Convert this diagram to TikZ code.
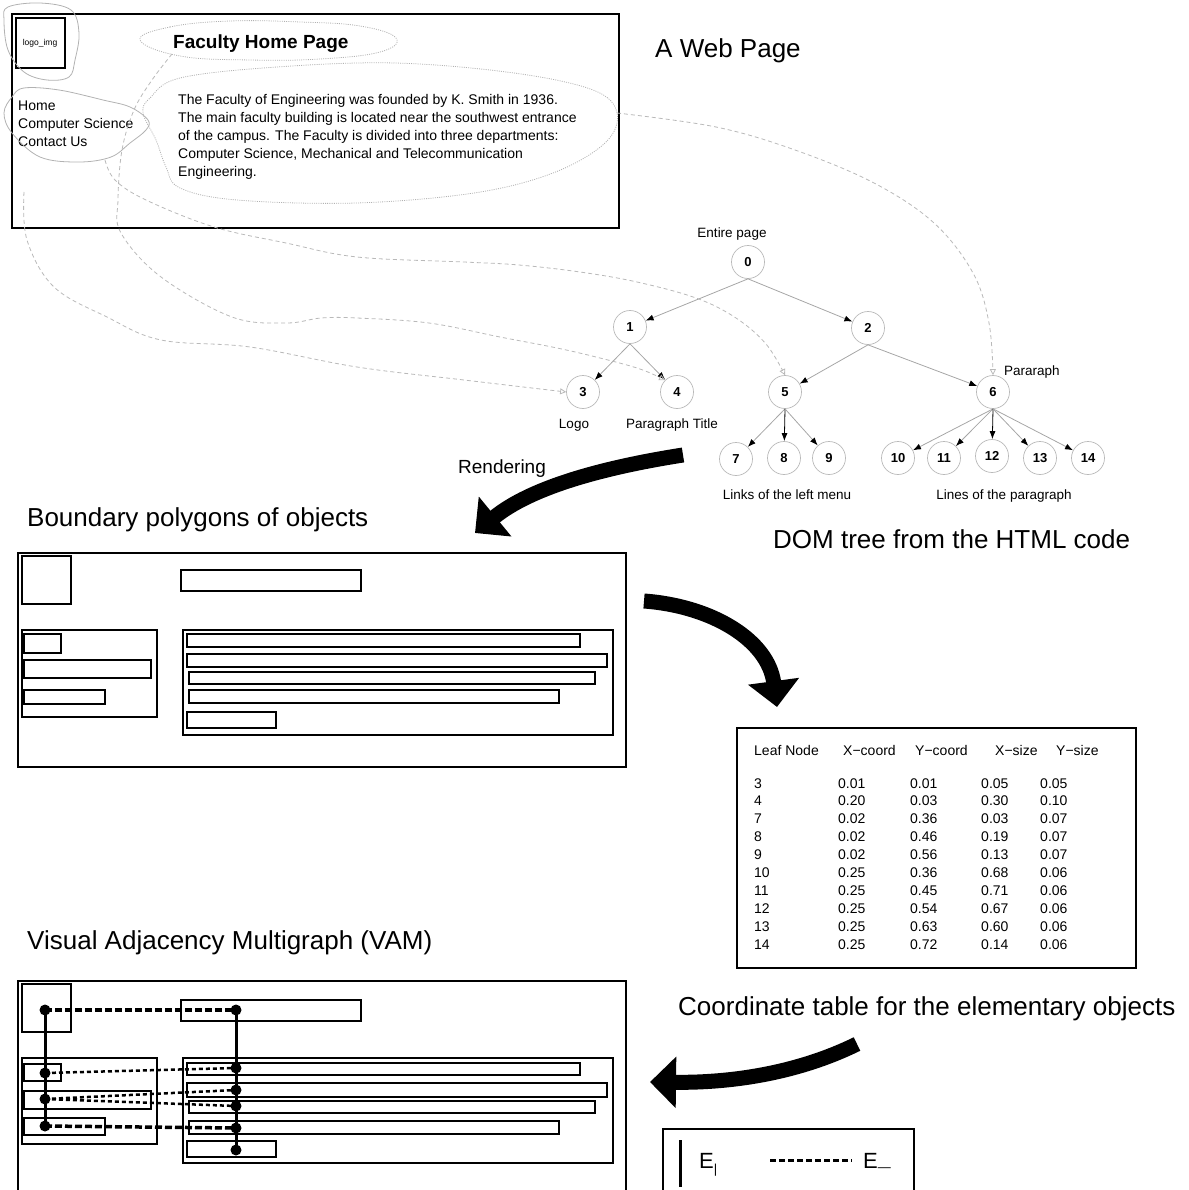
\documentclass[tikz,border=0pt]{standalone}
\usepackage{fontspec}
\setmainfont{Liberation Sans}
\usetikzlibrary{arrows.meta}
\begin{document}
\begin{tikzpicture}[x=1pt,y=-1pt,
  ttl/.style={anchor=base west, inner sep=0pt, font=\fontsize{26}{30}\selectfont},
  tnode/.style={circle, draw=gray!55, line width=0.7pt, minimum size=33pt, inner sep=0pt, font=\fontsize{13}{13}\selectfont\bfseries},
  tedge/.style={draw=gray!70, line width=0.8pt, -{Latex[black,length=8pt,width=6pt]}},
  tlabel/.style={anchor=base, inner sep=0pt, font=\fontsize{13.5}{14}\selectfont},
  lnk/.style={draw=gray!55, line width=0.8pt, dash pattern=on 4pt off 3pt, -{Triangle[open,length=6pt,width=6pt]}},
  sblob/.style={draw=gray!60, line width=0.8pt},
  dblob/.style={draw=gray!60, line width=0.8pt, dash pattern=on 1pt off 1.2pt},
  rbox/.style={draw=black, line width=1.5pt},
  bigarrow/.style={line width=15pt, -{Triangle[length=26pt,width=50pt]}},
  tcell/.style={anchor=base west, inner sep=0pt, font=\fontsize{14}{14}\selectfont},
  vdot/.style={circle, fill=black, inner sep=0pt, minimum size=11pt},
  thickdash/.style={line width=3.5pt, dash pattern=on 7pt off 3pt},
  thindash/.style={line width=2.5pt, dash pattern=on 4pt off 3pt},
]
\useasboundingbox (0,0) rectangle (1188,1190);
\clip (0,0) rectangle (1188,1190);

% ---------------- Web page ----------------
\draw[line width=2pt] (12,14) rectangle (619,228);
\draw[line width=2pt] (16,18) rectangle (65,68);
\node[inner sep=0pt, font=\fontsize{8.5}{9}\selectfont] (logotxt) at (40,43) {logo\_img};
\node[anchor=base west, inner sep=0pt, font=\fontsize{19}{19}\selectfont\bfseries] (fhp) at (173,49) {Faculty Home Page};
\node[anchor=north west, inner sep=0pt, align=left, font=\fontsize{14}{18}\selectfont] (menu) at (18,100.8) {Home\\Computer Science\\Contact Us};
\node[anchor=north west, inner sep=0pt, align=left, font=\fontsize{14}{18}\selectfont] (para) at (178,93.8)
 {The Faculty of Engineering was founded by K. Smith in 1936.\\
  The main faculty building is located near the southwest entrance\\
  of the campus. The Faculty is divided into three departments:\\
  Computer Science, Mechanical and Telecommunication\\
  Engineering.};

% blobs
\draw[sblob] plot[smooth cycle, tension=0.6] coordinates {(8,7) (40,3) (71,10) (79,33) (75,60) (69,77) (47,80) (24,72) (8,50) (4,20)};
\draw[sblob] plot[smooth cycle, tension=0.6] coordinates {(24,88) (59,90) (103,100) (130,107) (148,120) (146,130) (130,143) (111,157) (79,162) (40,157) (12,133) (4,113) (12,97)};
\draw[dblob] plot[smooth cycle, tension=0.7] coordinates {(140,40) (170,27) (230,21) (300,22) (360,26) (396,38) (380,52) (320,59) (250,60) (180,56)};
\draw[dblob] plot[smooth cycle, tension=0.6] coordinates {(180,78) (277,67) (395,63) (514,73) (593,90) (617,113) (605,143) (553,173) (474,193) (356,203) (237,200) (180,188) (166,167) (156,140) (143,113) (150,98)};

% ---------------- Tree ----------------
\node[tnode] (n0) at (748,262) {0};
\node[tnode] (n1) at (630,327) {1};
\node[tnode] (n2) at (868,328) {2};
\node[tnode] (n3) at (583,392) {3};
\node[tnode] (n4) at (677,392) {4};
\node[tnode] (n5) at (785,392) {5};
\node[tnode] (n6) at (993,392) {6};
\node[tnode] (n7) at (736,459) {7};
\node[tnode] (n8) at (784,458) {8};
\node[tnode] (n9) at (829,458) {9};
\node[tnode] (n10) at (898,458) {10};
\node[tnode] (n11) at (944,458) {11};
\node[tnode] (n12) at (992,456) {12};
\node[tnode] (n13) at (1040,458) {13};
\node[tnode] (n14) at (1088,458) {14};

\draw[tedge] (n0.south) -- (n1);
\draw[tedge] (n0.south) -- (n2);
\draw[tedge] (n1.south) -- (n3);
\draw[tedge] (n1.south) -- (n4);
\draw[tedge] (n2.south) -- (n5);
\draw[tedge] (n2.south) -- (n6);
\draw[tedge] (n5.south) -- (n7);
\draw[tedge, draw=black] (n5.south) -- (n8);
\draw[tedge] (n5.south) -- (n9);
\draw[tedge] (n6.south) -- (n10);
\draw[tedge] (n6.south) -- (n11);
\draw[tedge, draw=black] (n6.south) -- (n12);
\draw[tedge] (n6.south) -- (n13);
\draw[tedge] (n6.south) -- (n14);

\node[tlabel] (lent) at (732,237) {Entire page};
\node[tlabel] (llogo) at (574,428) {Logo};
\node[tlabel] (lpt) at (672,428) {Paragraph Title};
\node[tlabel, anchor=base west] (lpar) at (1004,375) {Pararaph};
\node[tlabel] (llinks) at (787,499) {Links of the left menu};
\node[tlabel] (llines) at (1004,499) {Lines of the paragraph};

% dashed links from page objects to tree nodes
\draw[lnk] plot[smooth, tension=0.6] coordinates {(24,192) (27,240) (54,287) (107,317) (161,340) (250,347) (357,367) (464,380) (n3.west)};
\draw[lnk] plot[smooth, tension=0.6] coordinates {(172,54) (152,80) (134,110) (122,150) (118,200) (121,233) (161,277) (232,317) (286,323) (321,318) (357,318) (429,323) (500,337) (557,348) (600,358) (640,369) (n4.135)};
\draw[lnk] plot[smooth, tension=0.6] coordinates {(105,160) (115,180) (146,200) (214,227) (286,243) (357,257) (464,262) (519,265) (580,272) (637,282) (696,298) (736,318) (766,344) (n5.north)};
\draw[lnk] plot[smooth, tension=0.6] coordinates {(617,113) (716,127) (795,150) (874,183) (934,223) (973,273) (989,323) (n6.north)};

% ---------------- titles ----------------
\node[ttl] (t1) at (655,58) {A Web Page};
\node[ttl] (t2) at (27,526) {Boundary polygons of objects};
\node[ttl] (t3) at (773,548) {DOM tree from the HTML code};
\node[ttl] (t4) at (27,949) {Visual Adjacency Multigraph (VAM)};
\node[ttl] (t5) at (678,1015) {Coordinate table for the elementary objects};
\node[anchor=base west, inner sep=0pt, font=\fontsize{19}{20}\selectfont] (trend) at (458,473) {Rendering};

% ---------------- big arrows ----------------
\draw[bigarrow] (683,455) .. controls (600,468) and (530,488) .. (475,533);
\draw[bigarrow] (644,601) .. controls (712,606) and (768,640) .. (777,707);
\draw[bigarrow] (857,1044) .. controls (800,1072) and (735,1083) .. (650,1082);

% ---------------- boundary polygons ----------------
\draw[rbox] (18,553) rectangle (626,767);
\draw[rbox] (22,556) rectangle (71,604);
\draw[rbox] (181,570) rectangle (361,591);
\draw[rbox] (22,630) rectangle (157,717);
\draw[rbox] (24,634) rectangle (61,653);
\draw[rbox] (24,660) rectangle (151,678);
\draw[rbox] (24,690) rectangle (105,704);
\draw[rbox] (183,630) rectangle (613,735);
\draw[rbox] (187,634) rectangle (580,647);
\draw[rbox] (187,654) rectangle (607,667);
\draw[rbox] (189,672) rectangle (595,684);
\draw[rbox] (189,690) rectangle (559,703);
\draw[rbox] (187,712) rectangle (276,728);

% ---------------- table ----------------
\draw[line width=1.5pt] (737,728) rectangle (1136,968);
\node[tcell] (h1) at (754,755) {Leaf Node};
\node[tcell] (h2) at (843,755) {X−coord};
\node[tcell] (h3) at (915,755) {Y−coord};
\node[tcell] (h4) at (995,755) {X−size};
\node[tcell] (h5) at (1056,755) {Y−size};
\foreach \a/\b/\c/\d/\e [count=\i from 0] in {3/0.01/0.01/0.05/0.05, 4/0.20/0.03/0.30/0.10, 7/0.02/0.36/0.03/0.07, 8/0.02/0.46/0.19/0.07, 9/0.02/0.56/0.13/0.07, 10/0.25/0.36/0.68/0.06, 11/0.25/0.45/0.71/0.06, 12/0.25/0.54/0.67/0.06, 13/0.25/0.63/0.60/0.06, 14/0.25/0.72/0.14/0.06}{
  \node[tcell] (ra\i) at (754,788+17.9*\i) {\a};
  \node[tcell] (rb\i) at (838,788+17.9*\i) {\b};
  \node[tcell] (rc\i) at (910,788+17.9*\i) {\c};
  \node[tcell] (rd\i) at (981,788+17.9*\i) {\d};
  \node[tcell] (re\i) at (1040,788+17.9*\i) {\e};
}

% ---------------- VAM ----------------
\draw[rbox] (18,1200) -- (18,981) -- (626,981) -- (626,1200);
\draw[rbox] (22,984) rectangle (71,1032);
\draw[rbox] (181,1000) rectangle (361,1021);
\draw[rbox] (22,1058) rectangle (157,1144);
\draw[rbox] (24,1064) rectangle (61,1081);
\draw[rbox] (24,1091) rectangle (151,1109);
\draw[rbox] (24,1118) rectangle (105,1135);
\draw[rbox] (183,1058) rectangle (613,1163);
\draw[rbox] (187,1063) rectangle (580,1075);
\draw[rbox] (187,1083) rectangle (607,1097);
\draw[rbox] (189,1101) rectangle (595,1113);
\draw[rbox] (189,1121) rectangle (559,1134);
\draw[rbox] (187,1141) rectangle (276,1157);

\node[vdot] (L1) at (45,1010) {};
\node[vdot] (L2) at (45,1073) {};
\node[vdot] (L3) at (45,1099) {};
\node[vdot] (L4) at (45,1126) {};
\node[vdot] (R1) at (236,1010) {};
\node[vdot] (R2) at (236,1068) {};
\node[vdot] (R3) at (236,1090) {};
\node[vdot] (R4) at (236,1106) {};
\node[vdot] (R5) at (236,1128) {};
\node[vdot] (R6) at (236,1150) {};
\draw[line width=3pt] (L1.center) -- (L4.center);
\draw[line width=3pt] (R1.center) -- (R6.center);
\draw[thickdash] (L1.center) -- (R1.center);
\draw[thickdash] (L4.center) -- (R5.center);
\draw[thindash] (L2.center) -- (R2.center);
\draw[thindash] (L3.center) -- (R3.center);
\draw[thindash] (L3.center) -- (R4.center);

% ---------------- legend ----------------
\draw[line width=1.5pt] (663,1200) -- (663,1129) -- (914,1129) -- (914,1200);
\coordinate (lg1) at (680,1140);
\coordinate (lg2) at (680,1187);
\draw[line width=3pt] (lg1) -- (lg2);
\node[anchor=base west, inner sep=0pt, font=\fontsize{22}{22}\selectfont] (e1) at (699,1168) {E\raisebox{-5pt}{\fontsize{13}{13}\selectfont |}};
\coordinate (lg3) at (770,1160);
\coordinate (lg4) at (852,1160);
\draw[line width=3pt, dash pattern=on 6pt off 3pt] (lg3) -- (lg4);
\node[anchor=base west, inner sep=0pt, font=\fontsize{22}{22}\selectfont] (e2) at (863,1168) {E\raisebox{-3pt}{\fontsize{13}{13}\selectfont —}};
\end{tikzpicture}
\end{document}
